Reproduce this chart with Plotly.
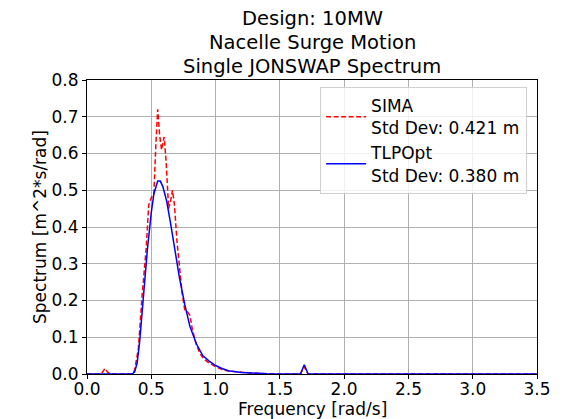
import plotly.graph_objects as go

sima_freq = [0.0, 0.10, 0.12, 0.14, 0.16, 0.18, 0.35, 0.37, 0.40, 0.43, 0.46, 0.48, 0.50, 0.52,
             0.535, 0.55, 0.565, 0.58, 0.60, 0.615, 0.635, 0.65, 0.665, 0.68, 0.70, 0.72, 0.74,
             0.76, 0.78, 0.80, 0.82, 0.85, 0.88, 0.91, 0.95, 1.00, 1.05, 1.10, 1.20, 1.30, 1.50,
             1.66, 1.69, 1.72, 3.5]
sima_spec = [0.0, 0.0, 0.005, 0.015, 0.005, 0.0, 0.0, 0.01, 0.07, 0.22, 0.34, 0.46, 0.48, 0.49,
             0.62, 0.72, 0.65, 0.61, 0.645, 0.58, 0.45, 0.47, 0.50, 0.46, 0.36, 0.28, 0.22,
             0.175, 0.17, 0.16, 0.12, 0.08, 0.055, 0.04, 0.03, 0.02, 0.012, 0.008, 0.004, 0.002, 0.0,
             0.0, 0.02, 0.0, 0.0]

tlp_freq = [0.0, 0.35, 0.37, 0.39, 0.41, 0.44, 0.47, 0.50, 0.52, 0.55, 0.57, 0.59, 0.62, 0.65,
            0.68, 0.72, 0.76, 0.80, 0.85, 0.90, 0.95, 1.00, 1.05, 1.10, 1.20, 1.30, 1.40, 1.60,
            1.66, 1.69, 1.72, 3.5]
tlp_spec = [0.0, 0.0, 0.005, 0.03, 0.09, 0.22, 0.34, 0.44, 0.49, 0.525, 0.525, 0.51, 0.47, 0.41,
            0.34, 0.26, 0.19, 0.13, 0.083, 0.05, 0.035, 0.023, 0.015, 0.009, 0.004, 0.002, 0.001, 0.0,
            0.0, 0.025, 0.0, 0.0]

x_ticks = [0.0, 0.5, 1.0, 1.5, 2.0, 2.5, 3.0, 3.5]
y_ticks = [0.0, 0.1, 0.2, 0.3, 0.4, 0.5, 0.6, 0.7, 0.8]
title_lines = ["Design: 10MW", "Nacelle Surge Motion", "Single JONSWAP Spectrum"]

font = "DejaVu Sans"
fig = go.Figure()
fig.add_trace(go.Scatter(x=sima_freq, y=sima_spec, mode="lines",
                         name="SIMA<br>Std Dev: 0.421 m",
                         line=dict(color="red", dash="5px,2.5px", width=1.5)))
fig.add_trace(go.Scatter(x=tlp_freq, y=tlp_spec, mode="lines",
                         name="TLPOpt<br>Std Dev: 0.380 m",
                         line=dict(color="blue", width=1.5)))

for i, line in enumerate(title_lines):
    fig.add_annotation(text=line, xref="paper", yref="paper", x=0.5, y=1, xanchor="center",
                       yanchor="middle", yshift=62 - 24 * i, showarrow=False,
                       font=dict(size=19.5, family=font, color="black"))
fig.add_annotation(text="Frequency [rad/s]", xref="paper", yref="paper", x=0.5, y=0,
                   xanchor="center", yanchor="middle", yshift=-35, showarrow=False,
                   font=dict(size=17, family=font, color="black"))
fig.add_annotation(text="Spectrum [m^2*s/rad]", xref="paper", yref="paper", x=0, y=0.5,
                   xanchor="center", yanchor="middle", xshift=-47, textangle=-90, showarrow=False,
                   font=dict(size=17, family=font, color="black"))

fig.update_layout(
    width=559, height=411,
    margin=dict(l=79, r=30, t=72, b=45, autoexpand=False),
    paper_bgcolor="white", plot_bgcolor="white",
    font=dict(family=font, size=17, color="black"),
    showlegend=True,
    legend=dict(x=0.978, y=0.976, xanchor="right", yanchor="top",
                bgcolor="rgba(255,255,255,0.8)", bordercolor="#d0d0d0", borderwidth=1,
                font=dict(size=17, family=font), itemwidth=40, tracegroupgap=0),
    xaxis=dict(range=[0, 3.5], tickvals=x_ticks, ticktext=[f"{v:.1f}" for v in x_ticks],
               showgrid=True, gridcolor="#b0b0b0", gridwidth=1, automargin=False,
               showline=True, linecolor="black", linewidth=1, mirror=True,
               ticks="outside", ticklen=4, tickcolor="black", zeroline=False,
               ticklabelstandoff=-4),
    yaxis=dict(range=[0, 0.8], tickvals=y_ticks, ticktext=[f"{v:.1f}" for v in y_ticks],
               showgrid=True, gridcolor="#b0b0b0", gridwidth=1, automargin=False,
               showline=True, linecolor="black", linewidth=1, mirror=True,
               ticks="outside", ticklen=4, tickcolor="black", zeroline=False),
)
fig.write_html("out.html")
